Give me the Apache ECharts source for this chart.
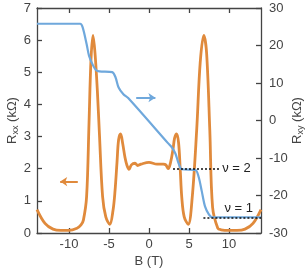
<!DOCTYPE html>
<html>
<head>
<meta charset="utf-8">
<script src="https://cdn.jsdelivr.net/npm/echarts@6/dist/echarts.min.js"></script>
<style>
  html, body { margin: 0; padding: 0; background: #fff; }
  #chart { width: 305px; height: 269px; }
</style>
</head>
<body>
<div id="chart"></div>
<script>
// Rxx (kOhm) vs B (T), left axis
const rxxB = [-14, -13, -12, -11, -10, -9, -8.5, -8.2, -7.8, -7.5, -7.25, -7, -6.75, -6.45, -6.2, -5.8, -5.4, -4.9, -4.5, -4.25, -4, -3.8, -3.55, -3.3, -3, -2.75, -2.5, -2.2, -1.75, -1.4, -1, 0, 1, 1.8, 2.1, 2.4, 2.7, 3.0, 3.2, 3.46, 3.7, 3.9, 4.1, 4.4, 4.9, 5.4, 5.96, 6.4, 6.85, 7.2, 7.6, 7.95, 8.6, 9, 10, 11, 12, 13, 14]
const rxxVal = [0.73, 0.3, 0.12, 0.08, 0.08, 0.15, 0.25, 0.4, 1.13, 3.4, 5.4, 6.15, 5.6, 4.4, 3.1, 1.13, 0.5, 0.27, 0.7, 1.3, 2.2, 2.9, 3.08, 2.8, 2.35, 2.1, 1.98, 2.12, 2.17, 2.1, 2.14, 2.2, 2.14, 2.14, 2.12, 2.0, 2.2, 2.6, 2.95, 3.08, 2.8, 2.0, 1.1, 0.5, 0.27, 1.1, 3.2, 5.3, 6.15, 5.6, 3.2, 0.8, 0.15, 0.1, 0.08, 0.08, 0.12, 0.3, 0.73]

// Rxy (kOhm) vs B (T), right axis
const rxyB = [-14, -8.6, -8.3, -7.8, -7.5, -7.0, -6.6, -6.2, -4.6, -4.2, -3.8, -3.2, -2.6, 2.4, 2.9, 3.3, 3.7, 4.1, 5.8, 6.2, 6.6, 7.0, 7.5, 7.9, 14]
const rxyVal = [25.8, 25.8, 24.9, 20.4, 17.3, 14.7, 13.4, 13.1, 12.9, 11.6, 8.8, 7.0, 6.0, -6.1, -7.3, -8.8, -11.4, -13.0, -13.2, -15, -18.9, -22.9, -25.1, -25.8, -25.8]

// quantum Hall plateaus: [label, Rxy, B start, B end]
const plateaus = [
  ['ν = 2', -12.9, 3.0, 8.9],
  ['ν = 1', -25.8, 6.8, 14]
]
const bTicks = [-10, -5, 0, 5, 10]

const axisColor = '#444'
const font = 'Liberation Sans, Arial, sans-serif'

const chart = echarts.init(document.getElementById('chart'))
const nameRich = {
  a: { fontSize: 13, color: axisColor, fontFamily: font },
  s: { fontSize: 9, color: axisColor, fontFamily: font, padding: [6, 0, 0, 0] }
}
const lineSt = { color: axisColor, width: 1.3 }
const baseY = {
  type: 'value',
  nameLocation: 'middle',
  nameMoveOverlap: false,
  axisLine: { show: true, onZero: false, lineStyle: lineSt },
  axisTick: { show: true, inside: true, length: 5, lineStyle: lineSt },
  axisLabel: { color: axisColor, fontSize: 13, fontFamily: font, margin: 6 },
  splitLine: { show: false }
}

chart.setOption({
  animation: false,
  grid: { left: 37, right: 44, top: 8, bottom: 36, outerBoundsMode: 'none', containLabel: false },
  xAxis: [
    {
      type: 'value', min: -14, max: 14,
      name: 'B (T)', nameLocation: 'middle', nameGap: 22, nameMoveOverlap: false,
      nameTextStyle: { color: axisColor, fontSize: 13, fontFamily: font },
      axisLine: { show: true, onZero: false, lineStyle: lineSt },
      axisTick: { show: true, inside: true, length: 5, lineStyle: lineSt, customValues: bTicks },
      axisLabel: { color: axisColor, fontSize: 13, fontFamily: font, margin: 5, customValues: bTicks },
      splitLine: { show: false }
    },
    {
      type: 'value', min: -14, max: 14, position: 'top',
      axisLine: { show: true, onZero: false, lineStyle: lineSt },
      axisTick: { show: true, inside: true, length: 5, lineStyle: lineSt, customValues: bTicks },
      axisLabel: { show: false },
      splitLine: { show: false }
    }
  ],
  yAxis: [
    Object.assign({}, baseY, {
      min: 0, max: 7, interval: 1, position: 'left',
      name: '{a|R}{s|xx}{a| (kΩ)}', nameGap: 17, nameTextStyle: { rich: nameRich }
    }),
    Object.assign({}, baseY, {
      min: -30, max: 30, interval: 10, position: 'right',
      name: '{a|R}{s|xy}{a| (kΩ)}', nameGap: 29, nameRotate: 90,
      nameTextStyle: { rich: nameRich },
      axisLabel: Object.assign({}, baseY.axisLabel, { margin: 8 })
    })
  ],
  series: [
    {
      type: 'line', name: 'Rxx', xAxisIndex: 0, yAxisIndex: 0,
      data: rxxB.map((b, i) => [b, rxxVal[i]]),
      smooth: 0.35, showSymbol: false,
      lineStyle: { color: '#E08A3C', width: 2.8 },
      markLine: {
        silent: true, symbol: ['none', 'arrow'], symbolSize: 7,
        lineStyle: { color: '#E08A3C', width: 2, type: 'solid' },
        label: { show: false },
        data: [[{ coord: [-8.9, 1.6] }, { coord: [-11.1, 1.6] }]]
      },
      z: 2
    },
    {
      type: 'line', name: 'Rxy', xAxisIndex: 0, yAxisIndex: 1,
      data: rxyB.map((b, i) => [b, rxyVal[i]]),
      smooth: 0.3, showSymbol: false,
      lineStyle: { color: '#6FA8DC', width: 2.2 },
      markLine: {
        silent: true, symbol: 'none',
        lineStyle: { color: '#111', width: 1.5, type: [2, 2] },
        label: { color: '#222', fontSize: 13, fontFamily: font },
        data: [
          [{ coord: [-1.6, 6.1], symbol: 'none', lineStyle: { color: '#6FA8DC', width: 2, type: 'solid' }, label: { show: false } },
           { coord: [0.8, 6.1], symbol: 'arrow', symbolSize: 7 }],
          [{ coord: [plateaus[0][2], plateaus[0][1]], label: { show: true, position: 'end', formatter: plateaus[0][0], distance: 2 } },
           { coord: [plateaus[0][3], plateaus[0][1]] }],
          [{ coord: [plateaus[1][2], plateaus[1][1]], label: { show: true, position: 'insideEndTop', formatter: plateaus[1][0], distance: [8, 2] } },
           { coord: [plateaus[1][3], plateaus[1][1]] }]
        ]
      },
      z: 3
    }
  ]
})
</script>
</body>
</html>
